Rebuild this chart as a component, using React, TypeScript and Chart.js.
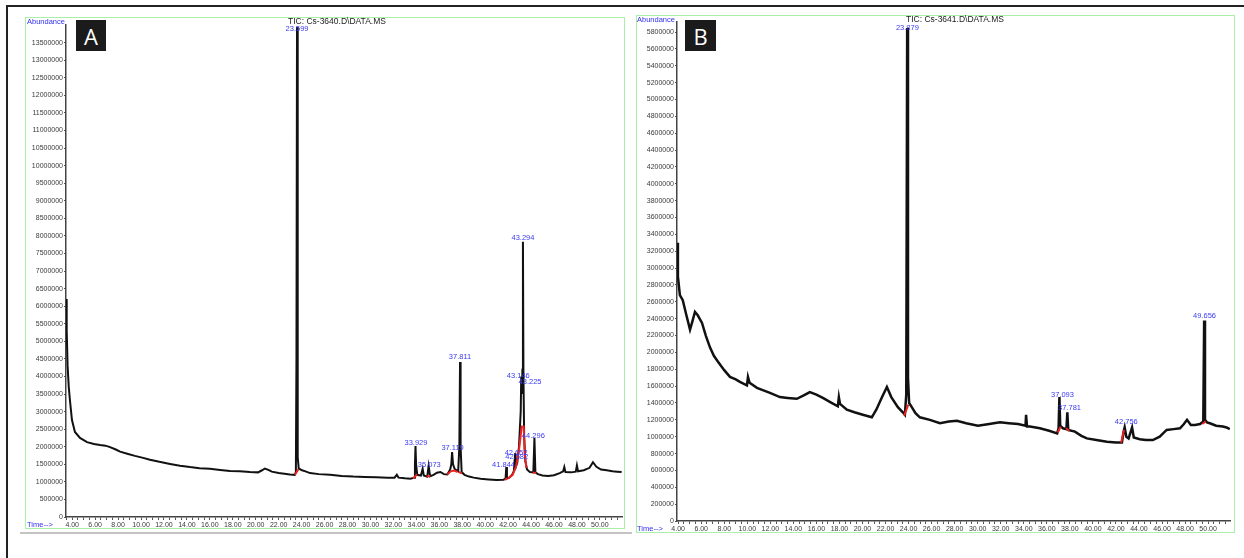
import React, { useEffect, useRef } from 'react';
import { Chart, registerables } from 'chart.js';

Chart.register(...registerables);

const FONT = '"Liberation Sans", Arial, sans-serif';

// ---------- Panel A (TIC: Cs-3640) ----------
const timesA = [
  3.47, 3.52, 3.6, 3.7, 3.81, 3.98, 4.24, 4.68, 5.29, 5.9, 6.42, 6.9, 7.3, 7.8, 8.17, 8.8, 9.47, 10.1, 10.78, 11.6,
  12.53, 13.4, 14.27, 15.1, 16.0, 16.9, 17.76, 18.6, 19.5, 20.2, 20.55, 20.8, 21.1, 21.4, 22.0, 22.5, 22.98, 23.4, 23.5, 23.55,
  23.599, 23.64, 23.68, 23.75, 24.04, 24.4, 24.73, 25.5, 26.48, 27.5, 28.5, 29.5, 30.5, 31.5, 32.1, 32.3, 32.45, 33.0, 33.5, 33.8,
  33.88, 33.929, 33.98, 34.08, 34.4, 34.55, 34.65, 34.95, 35.073, 35.2, 35.5, 35.8, 36.1, 36.4, 36.7, 36.95, 37.05, 37.119, 37.2, 37.35,
  37.65, 37.75, 37.811, 37.86, 37.95, 38.2, 38.6, 39.0, 39.6, 40.3, 41.0, 41.6, 41.78, 41.844, 41.9, 42.1, 42.35, 42.5, 42.62, 42.7,
  42.8, 42.95, 43.1, 43.146, 43.2, 43.25, 43.294, 43.34, 43.4, 43.5, 43.65, 43.9, 44.2, 44.296, 44.38, 44.6, 45.0, 45.5, 46.0, 46.5,
  46.8, 46.9, 47.0, 47.5, 47.9, 48.0, 48.1, 48.6, 49.1, 49.4, 49.7, 50.1, 50.6, 51.1, 51.5, 51.9,
];
const abundanceA = [
  6200000, 5300000, 4300000, 3700000, 3300000, 2760000, 2420000, 2250000, 2130000, 2080000, 2050000, 2030000, 1990000, 1920000, 1860000, 1800000, 1740000, 1690000, 1630000, 1570000,
  1510000, 1460000, 1420000, 1390000, 1370000, 1340000, 1310000, 1300000, 1280000, 1270000, 1330000, 1380000, 1340000, 1290000, 1250000, 1230000, 1210000, 1200000, 1280000, 4500000,
  13950000, 5200000, 1700000, 1380000, 1330000, 1290000, 1250000, 1220000, 1200000, 1170000, 1150000, 1140000, 1130000, 1120000, 1120000, 1200000, 1120000, 1100000, 1090000, 1120000,
  1500000, 2020000, 1500000, 1200000, 1180000, 1370000, 1180000, 1150000, 1450000, 1160000, 1200000, 1260000, 1280000, 1220000, 1210000, 1350000, 1500000, 1850000, 1500000, 1360000,
  1300000, 2000000, 4410000, 2000000, 1280000, 1200000, 1150000, 1120000, 1090000, 1070000, 1050000, 1060000, 1100000, 1420000, 1100000, 1120000, 1200000, 1300000, 1820000, 1450000,
  1550000, 2000000, 3000000, 4000000, 3500000, 4200000, 7830000, 4000000, 2300000, 1600000, 1350000, 1280000, 1270000, 2250000, 1270000, 1220000, 1180000, 1170000, 1190000, 1250000,
  1300000, 1420000, 1280000, 1270000, 1290000, 1470000, 1300000, 1330000, 1400000, 1560000, 1430000, 1350000, 1330000, 1300000, 1290000, 1280000,
];
const baselineTimesA = [
  23.42, 23.72, null, 33.72, 34.06, null, 34.9, 35.22, null, 36.7, 37.0, 37.3, 37.6, null, 37.7, 37.98, null,
  41.7, 41.95, null, 42.0, 42.4, 42.7, 42.95, 43.2, null, 43.36, 43.45, 43.6, null, 44.15, 44.45,
];
const baselineAbundanceA = [
  1200000, 1360000, null, 1095000, 1210000, null, 1150000, 1170000, null, 1210000, 1300000, 1320000, 1280000, null, 1280000, 1240000, null,
  1060000, 1100000, null, 1100000, 1200000, 1450000, 1900000, 2600000, null, 2600000, 1800000, 1400000, null, 1270000, 1250000,
];
const peakLabelTimesA = [23.599, 43.294, 37.811, 42.89, 43.91, 33.97, 35.13, 37.16, 41.6, 42.7, 42.75, 44.2];
const peakLabelLevelsA = [13890000, 7940000, 4550000, 4010000, 3840000, 2100000, 1480000, 1960000, 1480000, 1820000, 1710000, 2300000];
const peakLabelTextsA = ['23.599', '43.294', '37.811', '43.146', '43.225', '33.929', '35.073', '37.119', '41.844', '42.652', '42.582', '44.296'];
const yTicksA = [
  0, 500000, 1000000, 1500000, 2000000, 2500000, 3000000, 3500000, 4000000, 4500000, 5000000, 5500000, 6000000, 6500000,
  7000000, 7500000, 8000000, 8500000, 9000000, 9500000, 10000000, 10500000, 11000000, 11500000, 12000000, 12500000, 13000000, 13500000,
];

// ---------- Panel B (TIC: Cs-3641) ----------
const timesB = [
  3.92, 3.98, 4.15, 4.4, 4.7, 5.03, 5.2, 5.46, 5.7, 6.07, 6.4, 6.76, 7.1, 7.46, 8.0, 8.5, 9.0, 9.36, 9.97, 10.06,
  10.2, 10.84, 11.4, 11.97, 12.83, 13.5, 14.3, 14.9, 15.43, 16.0, 16.56, 17.2, 17.86, 17.95, 18.05, 18.64, 19.3, 20.03, 20.81, 21.2,
  21.7, 22.12, 22.5, 23.07, 23.5, 23.68, 23.8, 23.879, 23.95, 24.05, 24.28, 24.6, 24.98, 25.85, 26.72, 27.5, 28.2, 29.0, 30.02, 31.0,
  31.93, 32.7, 33.5, 34.15, 34.2, 34.28, 34.54, 35.4, 36.2, 36.9, 37.02, 37.093, 37.16, 37.4, 37.7, 37.781, 37.86, 38.44, 39.0, 39.48,
  40.3, 41.22, 42.0, 42.52, 42.65, 42.756, 42.9, 43.1, 43.4, 43.55, 44.07, 44.6, 45.2, 45.8, 46.4, 47.0, 47.56, 47.9, 48.17, 48.5,
  48.86, 49.3, 49.58, 49.656, 49.73, 49.9, 50.15, 50.7, 51.28, 51.6, 51.88,
];
const abundanceB = [
  3300000, 2900000, 2680000, 2620000, 2450000, 2270000, 2350000, 2480000, 2440000, 2350000, 2200000, 2060000, 1960000, 1890000, 1790000, 1710000, 1680000, 1650000, 1610000, 1710000,
  1640000, 1580000, 1550000, 1520000, 1470000, 1460000, 1450000, 1490000, 1530000, 1500000, 1460000, 1410000, 1360000, 1470000, 1390000, 1320000, 1290000, 1260000, 1230000, 1320000,
  1470000, 1590000, 1470000, 1350000, 1290000, 1260000, 1500000, 5850000, 1700000, 1400000, 1350000, 1280000, 1230000, 1200000, 1160000, 1180000, 1190000, 1160000, 1130000, 1150000,
  1170000, 1160000, 1150000, 1130000, 1260000, 1120000, 1120000, 1100000, 1070000, 1040000, 1100000, 1470000, 1130000, 1100000, 1090000, 1290000, 1080000, 1060000, 1010000, 980000,
  960000, 940000, 930000, 930000, 1050000, 1110000, 1000000, 980000, 1110000, 990000, 970000, 960000, 960000, 1000000, 1080000, 1090000, 1100000, 1150000, 1200000, 1140000,
  1140000, 1150000, 1180000, 2380000, 1200000, 1170000, 1160000, 1130000, 1120000, 1110000, 1090000,
];
const baselineTimesB = [23.62, 23.98, null, 36.95, 37.2, null, 37.65, 37.95, null, 42.45, 42.7, null, 49.5, 49.8];
const baselineAbundanceB = [1250000, 1380000, null, 1050000, 1120000, null, 1100000, 1070000, null, 930000, 1080000, null, 1150000, 1180000];
const peakLabelTimesB = [23.9, 37.36, 37.97, 42.9, 49.69];
const peakLabelLevelsB = [5850000, 1500000, 1340000, 1180000, 2430000];
const peakLabelTextsB = ['23.879', '37.093', '37.781', '42.756', '49.656'];
const yTicksB = [
  0, 200000, 400000, 600000, 800000, 1000000, 1200000, 1400000, 1600000, 1800000, 2000000, 2200000, 2400000, 2600000, 2800000,
  3000000, 3200000, 3400000, 3600000, 3800000, 4000000, 4200000, 4400000, 4600000, 4800000, 5000000, 5200000, 5400000, 5600000, 5800000,
];

// ---------- shared x-axis labels ----------
const xTickLabels = [4, 6, 8, 10, 12, 14, 16, 18, 20, 22, 24, 26, 28, 30, 32, 34, 36, 38, 40, 42, 44, 46, 48, 50];

function pts(xs: (number | null)[], ys: (number | null)[]) {
  return xs.map((x, i) => ({ x: x === null ? NaN : x, y: ys[i] }));
}

function peakLabelPlugin(times: number[], levels: number[], texts: string[]) {
  return {
    id: 'peakLabels',
    afterDatasetsDraw(chart: any) {
      const { ctx, scales } = chart;
      ctx.save();
      ctx.font = `7.5px ${FONT}`;
      ctx.fillStyle = '#3b3bf0';
      ctx.textAlign = 'center';
      ctx.textBaseline = 'middle';
      texts.forEach((t, i) => {
        ctx.fillText(t, scales.x.getPixelForValue(times[i]), scales.y.getPixelForValue(levels[i]));
      });
      ctx.restore();
    },
  };
}

function buildConfig(p: any) {
  return {
    type: 'line',
    data: {
      datasets: [
        {
          data: pts(p.redX, p.redY),
          borderColor: '#ee2222',
          borderWidth: 2,
          pointRadius: 0,
          spanGaps: false,
        },
        {
          data: pts(p.x, p.y),
          borderColor: '#111111',
          borderWidth: p.lineWidth,
          pointRadius: 0,
          tension: 0,
        },
      ],
    },
    plugins: [peakLabelPlugin(p.lblX, p.lblY, p.lblT)],
    options: {
      animation: false,
      responsive: false,
      maintainAspectRatio: false,
      events: [],
      layout: { padding: { left: 0, right: p.padRight, top: p.padTop, bottom: 0 } },
      plugins: { legend: { display: false }, tooltip: { enabled: false }, title: { display: false } },
      scales: {
        x: {
          type: 'linear',
          min: p.xMin,
          max: p.xMax,
          afterBuildTicks: (s: any) => {
            const arr: any[] = [];
            for (let i = 7; i <= 104; i++) {
              const v = i * 0.5;
              if (v >= p.xMin && v <= p.xMax) arr.push({ value: v });
            }
            s.ticks = arr;
          },
          afterFit: (s: any) => {
            s.height = p.xAxisH;
          },
          ticks: {
            autoSkip: false,
            maxRotation: 0,
            minRotation: 0,
            padding: 1,
            color: '#3a3a3a',
            font: { size: 7, family: FONT },
            callback: (v: number) => (xTickLabels.includes(v) ? v.toFixed(2) : ''),
          },
          grid: { drawOnChartArea: false, drawTicks: true, tickLength: 3, color: '#555' },
          border: { display: true, color: '#444', width: 1.5 },
        },
        y: {
          type: 'linear',
          min: 0,
          max: p.yMax,
          afterBuildTicks: (s: any) => {
            s.ticks = p.yTicks.map((v: number) => ({ value: v }));
          },
          afterFit: (s: any) => {
            s.width = 40;
          },
          ticks: {
            autoSkip: false,
            padding: 1,
            color: '#3a3a3a',
            font: { size: 7, family: FONT },
            callback: (v: number) => String(v),
          },
          grid: { drawOnChartArea: false, drawTicks: true, tickLength: 2, color: '#555' },
          border: { display: true, color: '#444', width: 1.5 },
        },
      },
    },
  };
}

const panelA = {
  x: timesA, y: abundanceA, redX: baselineTimesA, redY: baselineAbundanceA,
  lblX: peakLabelTimesA, lblY: peakLabelLevelsA, lblT: peakLabelTextsA,
  xMin: 3.46, xMax: 51.93, yMax: 14000000, yTicks: yTicksA,
  padTop: 7, padRight: 1, xAxisH: 10, lineWidth: 2,
};
const panelB = {
  x: timesB, y: abundanceB, redX: baselineTimesB, redY: baselineAbundanceB,
  lblX: peakLabelTimesB, lblY: peakLabelLevelsB, lblT: peakLabelTextsB,
  xMin: 3.9, xMax: 51.9, yMax: 5920000, yTicks: yTicksB,
  padTop: 6, padRight: 3, xAxisH: 10, lineWidth: 2.5,
};

const abs = (l: number, t: number, extra: React.CSSProperties = {}): React.CSSProperties => ({
  position: 'absolute', left: l, top: t, ...extra,
});

export default function App() {
  const refA = useRef<HTMLCanvasElement>(null);
  const refB = useRef<HTMLCanvasElement>(null);

  useEffect(() => {
    const a = new Chart(refA.current as HTMLCanvasElement, buildConfig(panelA) as any);
    const b = new Chart(refB.current as HTMLCanvasElement, buildConfig(panelB) as any);
    return () => {
      a.destroy();
      b.destroy();
    };
  }, []);

  const small: React.CSSProperties = { fontFamily: FONT, lineHeight: 1, whiteSpace: 'nowrap' };
  const box: React.CSSProperties = {
    background: '#1b1b1b', color: '#fff', display: 'flex', alignItems: 'center', justifyContent: 'center',
    fontFamily: '"Open Sans", "Noto Sans", sans-serif', fontSize: 22, lineHeight: 1,
  };

  return (
    <div style={{ position: 'absolute', left: 0, top: 0, width: 1244, height: 558, background: '#fff', overflow: 'hidden' }}>
      {/* outer frame */}
      <div style={abs(7, 5, { width: 1237, height: 2, background: '#222' })} />
      <div style={abs(6, 5, { width: 2, height: 553, background: '#222' })} />
      <div style={abs(20, 532, { width: 612, height: 2, background: '#c4c4c4' })} />

      {/* green frames */}
      <div style={abs(25, 17, { width: 598, height: 510, border: '1.5px solid #a9eea9' })} />
      <div style={abs(636, 15, { width: 597, height: 516, border: '1.5px solid #a9eea9' })} />

      <canvas ref={refA} width={597} height={509} style={abs(26, 18, { display: 'block', width: 597, height: 509 })} />
      <canvas ref={refB} width={596} height={515} style={abs(637, 16, { display: 'block', width: 596, height: 515 })} />

      {/* panel A texts */}
      <div style={abs(27, 17.5, { ...small, fontSize: 7.5, color: '#2f2ff0' })}>Abundance</div>
      <div style={abs(288, 16.5, { ...small, fontSize: 8.5, color: '#222' })}>TIC: Cs-3640.D\DATA.MS</div>
      <div style={abs(27, 521, { ...small, fontSize: 7.5, color: '#2f2ff0' })}>Time--&gt;</div>
      <div style={abs(76, 20, { ...box, width: 30, height: 31 })}>A</div>

      {/* panel B texts */}
      <div style={abs(637, 15.5, { ...small, fontSize: 7.5, color: '#2f2ff0' })}>Abundance</div>
      <div style={abs(906, 14.5, { ...small, fontSize: 8.5, color: '#222' })}>TIC: Cs-3641.D\DATA.MS</div>
      <div style={abs(637, 525, { ...small, fontSize: 7.5, color: '#2f2ff0' })}>Time--&gt;</div>
      <div style={abs(685, 20, { ...box, width: 31, height: 31 })}>B</div>
    </div>
  );
}
